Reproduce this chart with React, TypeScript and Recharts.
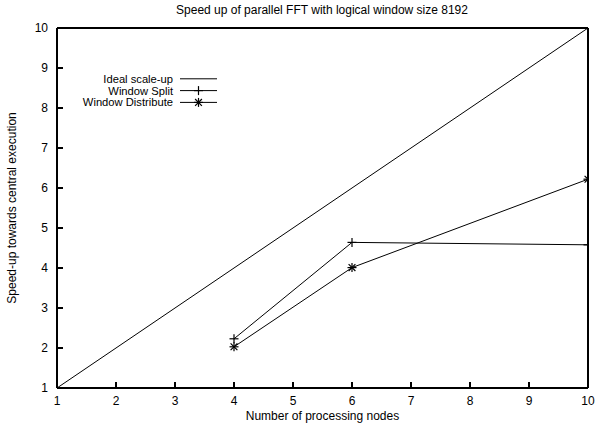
import React from "react";
import { LineChart, Line, XAxis, YAxis } from "recharts";

const idealNodes = [1, 10];
const idealSpeedup = [1, 10];
const splitNodes = [4, 6, 10];
const splitSpeedup = [2.23, 4.64, 4.58];
const distributeNodes = [4, 6, 10];
const distributeSpeedup = [2.03, 4.01, 6.22];
const tickValues = [1, 2, 3, 4, 5, 6, 7, 8, 9, 10];
const seriesNames = ["Ideal scale-up", "Window Split", "Window Distribute"];
const titleText = "Speed up of parallel FFT with logical window size 8192";
const xLabelText = "Number of processing nodes";
const yLabelText = "Speed-up towards central execution";

const idealData = idealNodes.map((n, i) => ({ nodes: n, speedup: idealSpeedup[i] }));
const splitData = splitNodes.map((n, i) => ({ nodes: n, speedup: splitSpeedup[i] }));
const distributeData = distributeNodes.map((n, i) => ({ nodes: n, speedup: distributeSpeedup[i] }));

const W = 595;
const H = 429;
const PLOT_L = 57;
const PLOT_R = 588;
const PLOT_T = 28;
const PLOT_B = 388;
const FONT = '"Liberation Sans", Arial, Helvetica, sans-serif';
const FS = 12;
const LEGEND_FS = 11.2;

const PlusMark = ({ cx, cy }: any) => {
  if (cx == null || cy == null) return null;
  const s = 4.5;
  return (
    <g stroke="#000" strokeWidth={1.2}>
      <line x1={cx - s} y1={cy} x2={cx + s} y2={cy} />
      <line x1={cx} y1={cy - s} x2={cx} y2={cy + s} />
    </g>
  );
};

const StarMark = ({ cx, cy }: any) => {
  if (cx == null || cy == null) return null;
  const s = 4.5;
  const d = 3.4;
  return (
    <g stroke="#000" strokeWidth={1.2}>
      <line x1={cx - s} y1={cy} x2={cx + s} y2={cy} />
      <line x1={cx} y1={cy - s} x2={cx} y2={cy + s} />
      <line x1={cx - d} y1={cy - d} x2={cx + d} y2={cy + d} />
      <line x1={cx - d} y1={cy + d} x2={cx + d} y2={cy - d} />
    </g>
  );
};

const Overlay = () => {
  const rowY = [78.8, 90.6, 102.4];
  const marks = [null, PlusMark, StarMark];
  return (
    <svg
      width={W}
      height={H}
      style={{ position: "absolute", left: 0, top: 0, pointerEvents: "none" }}
    >
      <text x={322} y={14} textAnchor="middle" fontFamily={FONT} fontSize={FS} fill="#000">
        {titleText}
      </text>
      {seriesNames.map((name, i) => {
        const M = marks[i] as any;
        return (
          <g key={name}>
            <text x={173} y={rowY[i]} dy="0.355em" textAnchor="end" fontFamily={FONT} fontSize={LEGEND_FS} fill="#000">
              {name}
            </text>
            <line x1={180} y1={rowY[i]} x2={217} y2={rowY[i]} stroke="#000" strokeWidth={1} />
            {M ? <M cx={198.5} cy={rowY[i]} /> : null}
          </g>
        );
      })}
    </svg>
  );
};

const YLabel = ({ viewBox }: any) => {
  const cx = 12;
  const cy = viewBox.y + viewBox.height / 2;
  return (
    <text
      x={cx}
      y={cy}
      transform={`rotate(-90 ${cx} ${cy})`}
      textAnchor="middle"
      dy="0.355em"
      fontFamily={FONT}
      fontSize={FS}
      fill="#000"
    >
      {yLabelText}
    </text>
  );
};

const tickStyle = { fontFamily: FONT, fontSize: FS, fill: "#000" };

export default function App() {
  return (
    <div style={{ position: "absolute", left: 0, top: 0, width: W, height: H, background: "#fff" }}>
      <LineChart
        width={W}
        height={H}
        margin={{ top: PLOT_T - 1, right: W - PLOT_R - 1, left: 0, bottom: 0 }}
      >
        <XAxis
          xAxisId="bottom"
          type="number"
          dataKey="nodes"
          domain={[1, 10]}
          ticks={tickValues}
          allowDataOverflow
          height={H - PLOT_B}
          stroke="#000"
          strokeWidth={2}
          tickSize={-6}
          tickMargin={14}
          tick={tickStyle}
          label={{
            value: xLabelText,
            position: "insideBottom",
            offset: 9,
            fontFamily: FONT,
            fontSize: FS,
            fill: "#000",
          }}
        />
        <XAxis
          xAxisId="top"
          orientation="top"
          type="number"
          domain={[1, 10]}
          ticks={tickValues}
          allowDataOverflow
          height={1}
          stroke="#000"
          strokeWidth={2}
          tickSize={-6}
          tick={false}
        />
        <YAxis
          yAxisId="left"
          type="number"
          dataKey="speedup"
          domain={[1, 10]}
          ticks={tickValues}
          allowDataOverflow
          width={PLOT_L}
          stroke="#000"
          strokeWidth={2}
          tickSize={-6}
          tickMargin={15}
          tick={tickStyle}
          label={<YLabel />}
        />
        <YAxis
          yAxisId="right"
          orientation="right"
          type="number"
          domain={[1, 10]}
          ticks={tickValues}
          allowDataOverflow
          width={1}
          stroke="#000"
          strokeWidth={2}
          tickSize={-6}
          tick={false}
        />
        <Line
          xAxisId="bottom"
          yAxisId="left"
          name={seriesNames[0]}
          data={idealData}
          dataKey="speedup"
          stroke="#000"
          strokeWidth={1}
          dot={false}
          activeDot={false}
          isAnimationActive={false}
        />
        <Line
          xAxisId="bottom"
          yAxisId="left"
          name={seriesNames[1]}
          data={splitData}
          dataKey="speedup"
          stroke="#000"
          strokeWidth={1}
          dot={<PlusMark />}
          activeDot={false}
          isAnimationActive={false}
        />
        <Line
          xAxisId="bottom"
          yAxisId="left"
          name={seriesNames[2]}
          data={distributeData}
          dataKey="speedup"
          stroke="#000"
          strokeWidth={1}
          dot={<StarMark />}
          activeDot={false}
          isAnimationActive={false}
        />
      </LineChart>
      <Overlay />
    </div>
  );
}
